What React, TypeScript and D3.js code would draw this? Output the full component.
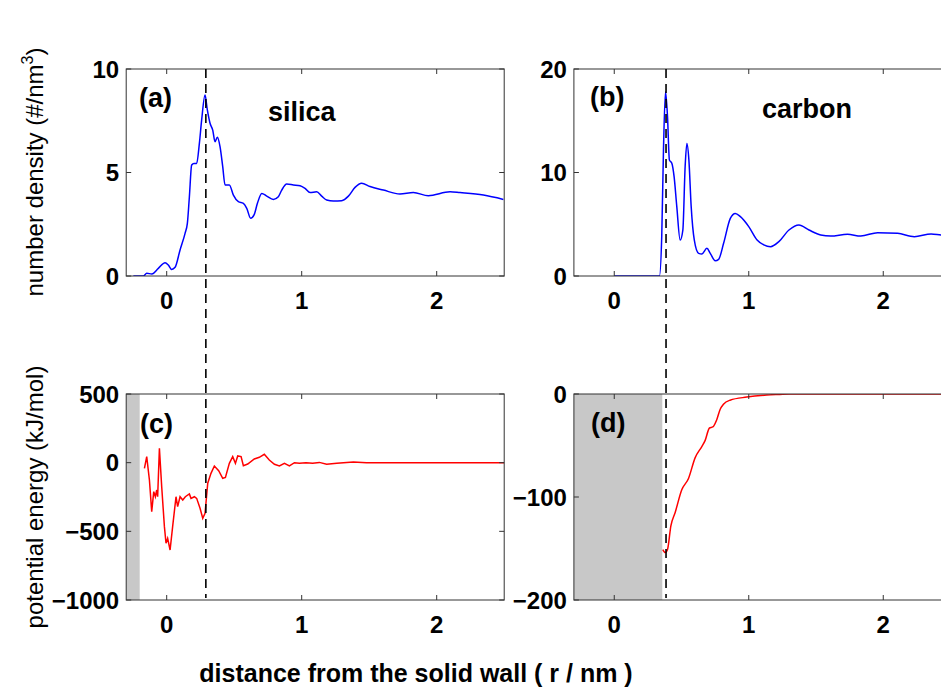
import React from "react";
import * as d3 from "d3";

// ---------- data ----------
const xTicks = [0, 1, 2];
const silicaDensityTicks = [0, 5, 10];
const carbonDensityTicks = [0, 10, 20];
const silicaEnergyTicks = [-1000, -500, 0, 500];
const carbonEnergyTicks = [-200, -100, 0];

const silicaDensity: [number, number][] = [
  [-0.247, 0], [-0.173, 0], [-0.148, 0.13], [-0.11, 0.1], [-0.062, 0.37], [-0.012, 0.64],
  [0.012, 0.53], [0.037, 0.32], [0.062, 0.42], [0.099, 1.26], [0.136, 2.06], [0.153, 2.54],
  [0.168, 3.83], [0.185, 5.36], [0.202, 5.44], [0.222, 5.44], [0.242, 6.41], [0.259, 7.54],
  [0.284, 8.74], [0.301, 8.02], [0.321, 7.38], [0.341, 7.05], [0.358, 6.49], [0.375, 6.7],
  [0.395, 6.25], [0.415, 5.28], [0.432, 4.4], [0.464, 4.4], [0.494, 3.91], [0.531, 3.59],
  [0.568, 3.51], [0.593, 3.27], [0.622, 2.79], [0.647, 2.95], [0.672, 3.51], [0.704, 3.99],
  [0.741, 3.86], [0.79, 3.7], [0.827, 3.83], [0.852, 4.15], [0.889, 4.44], [0.938, 4.4],
  [0.988, 4.36], [1.025, 4.23], [1.062, 4.03], [1.111, 4.07], [1.148, 3.86], [1.185, 3.67],
  [1.235, 3.62], [1.296, 3.64], [1.346, 3.86], [1.395, 4.28], [1.444, 4.48], [1.506, 4.32],
  [1.605, 4.15], [1.728, 3.96], [1.827, 4.03], [1.938, 3.88], [2.099, 4.07], [2.173, 4.03],
  [2.346, 3.91], [2.494, 3.7],
];

const carbonDensity: [number, number][] = [
  [0, 0], [0.336, 0], [0.353, 3.8], [0.366, 12.2], [0.381, 17.8], [0.396, 15.4], [0.41, 11.2],
  [0.428, 10.9], [0.445, 9.6], [0.465, 6.7], [0.49, 3.48], [0.51, 4.44], [0.527, 10.56],
  [0.54, 12.8], [0.555, 11.2], [0.572, 6.7], [0.595, 3.48], [0.627, 2.19], [0.652, 2.13],
  [0.689, 2.67], [0.714, 2.19], [0.751, 1.48], [0.776, 1.61], [0.813, 3.16], [0.863, 5.57],
  [0.9, 6.05], [0.938, 5.73], [1.0, 4.77], [1.062, 3.48], [1.112, 3.0], [1.162, 2.83],
  [1.224, 3.32], [1.299, 4.44], [1.373, 4.93], [1.448, 4.44], [1.535, 3.96], [1.609, 3.86],
  [1.734, 4.03], [1.833, 3.86], [1.958, 4.19], [2.107, 4.12], [2.231, 3.8], [2.356, 4.06],
  [2.44, 3.96], [2.5, 3.95],
];

const silicaEnergy: [number, number][] = [
  [-0.165, -41], [-0.148, 44], [-0.128, -126], [-0.111, -357], [-0.096, -211], [-0.084, -248],
  [-0.074, -199], [-0.067, -248], [-0.054, 104], [-0.037, -175], [-0.017, -466], [-0.005, -587],
  [0.007, -551], [0.025, -636], [0.044, -466], [0.069, -248], [0.081, -320], [0.099, -248],
  [0.119, -272], [0.138, -248], [0.168, -228], [0.18, -260], [0.205, -248], [0.222, -260],
  [0.247, -332], [0.267, -405], [0.284, -369], [0.304, -150], [0.328, -78], [0.353, -24],
  [0.385, -58], [0.415, -114], [0.435, -107], [0.464, -5], [0.489, 44], [0.509, -5],
  [0.526, 49], [0.551, 44], [0.568, -22], [0.6, -10], [0.649, 27], [0.686, 39], [0.723, 61],
  [0.76, 19], [0.798, -12], [0.835, -24], [0.872, -5], [0.909, -24], [0.946, 0], [0.983, -5],
  [1.032, 0], [1.081, -5], [1.131, 2], [1.185, -12], [1.26, -5], [1.383, 5], [1.48, 0], [2.5, 0],
];

const carbonEnergy: [number, number][] = [
  [0.361, -151], [0.379, -154], [0.396, -151], [0.421, -128], [0.453, -115], [0.502, -93],
  [0.552, -82], [0.601, -62], [0.651, -51], [0.676, -45], [0.708, -33], [0.733, -32],
  [0.762, -25], [0.787, -15], [0.812, -10], [0.861, -6], [0.985, -3], [1.134, -1],
  [1.23, -0.4], [1.3, 0], [2.5, 0],
];

const silicaWall = [-0.3, -0.2];
const carbonWall = [-0.3, 0.357];
const silicaMarker = 0.29;
const carbonMarker = 0.385;

// ---------- layout ----------
const W = 941;
const H = 689;
const xDomain: [number, number] = [-0.3, 2.5];
const leftX: [number, number] = [126.2, 504.2];
const rightX: [number, number] = [573.9, 950.5];
const topY: [number, number] = [276, 69];
const botY: [number, number] = [600, 394];

const FONT = "'Liberation Sans', Arial, Helvetica, sans-serif";

type PanelProps = {
  xr: [number, number];
  yr: [number, number];
  yDomain: [number, number];
  yTicks: number[];
  data: [number, number][];
  color: string;
  curve: any;
  wall?: number[];
  label: string;
  labelPos: [number, number];
  name?: string;
  namePos?: [number, number];
  id: string;
};

function fmt(v: number) {
  return v < 0 ? "\u2212" + Math.abs(v) : String(v);
}

function Panel(p: PanelProps) {
  const x = d3.scaleLinear().domain(xDomain).range(p.xr);
  const y = d3.scaleLinear().domain(p.yDomain).range(p.yr);
  const line = d3
    .line<[number, number]>()
    .x((d) => x(d[0]))
    .y((d) => y(d[1]))
    .curve(p.curve);
  const [x0, x1] = p.xr;
  const yb = p.yr[0];
  const yt = p.yr[1];
  const tl = 5;
  return (
    <g>
      <defs>
        <clipPath id={p.id}>
          <rect x={x0} y={yt} width={x1 - x0} height={yb - yt} />
        </clipPath>
      </defs>
      {p.wall && (
        <rect
          x={x(p.wall[0])}
          y={yt}
          width={x(p.wall[1]) - x(p.wall[0])}
          height={yb - yt}
          fill="#c8c8c8"
        />
      )}
      <path
        d={line(p.data) || ""}
        fill="none"
        stroke={p.color}
        strokeWidth={1.5}
        clipPath={`url(#${p.id})`}
      />
      <rect x={x0} y={yt} width={x1 - x0} height={yb - yt} fill="none" stroke="#333" strokeWidth={1} />
      {xTicks.map((t) => (
        <g key={"x" + t}>
          <line x1={x(t)} x2={x(t)} y1={yb} y2={yb - tl} stroke="#333" />
          <line x1={x(t)} x2={x(t)} y1={yt} y2={yt + tl} stroke="#333" />
          <text
            x={x(t)}
            y={yb + 33}
            textAnchor="middle"
            fontFamily={FONT}
            fontWeight="bold"
            fontSize={24}
          >
            {fmt(t)}
          </text>
        </g>
      ))}
      {p.yTicks.map((t) => (
        <g key={"y" + t}>
          <line x1={x0} x2={x0 + tl} y1={y(t)} y2={y(t)} stroke="#333" />
          <line x1={x1} x2={x1 - tl} y1={y(t)} y2={y(t)} stroke="#333" />
          <text
            x={x0 - 7}
            y={y(t)}
            dy="0.36em"
            textAnchor="end"
            fontFamily={FONT}
            fontWeight="bold"
            fontSize={24}
          >
            {fmt(t)}
          </text>
        </g>
      ))}
      <text x={p.labelPos[0]} y={p.labelPos[1]} fontFamily={FONT} fontWeight="bold" fontSize={27}>
        {p.label}
      </text>
      {p.name && p.namePos && (
        <text x={p.namePos[0]} y={p.namePos[1]} fontFamily={FONT} fontWeight="bold" fontSize={27}>
          {p.name}
        </text>
      )}
    </g>
  );
}

export default function App() {
  const xl = d3.scaleLinear().domain(xDomain).range(leftX);
  const xrr = d3.scaleLinear().domain(xDomain).range(rightX);
  return (
    <svg
      width={W}
      height={H}
      style={{ position: "absolute", left: 0, top: 0, background: "#fff" }}
    >
      <rect x={0} y={0} width={W} height={H} fill="#fff" />
      <Panel
        id="ca"
        xr={leftX}
        yr={topY}
        yDomain={[0, 10]}
        yTicks={silicaDensityTicks}
        data={silicaDensity}
        color="#0000ff"
        curve={d3.curveMonotoneX}
        label="(a)"
        labelPos={[139, 107]}
        name="silica"
        namePos={[268, 121]}
      />
      <Panel
        id="cb"
        xr={rightX}
        yr={topY}
        yDomain={[0, 20]}
        yTicks={carbonDensityTicks}
        data={carbonDensity}
        color="#0000ff"
        curve={d3.curveMonotoneX}
        label="(b)"
        labelPos={[590, 106]}
        name="carbon"
        namePos={[762, 118]}
      />
      <Panel
        id="cc"
        xr={leftX}
        yr={botY}
        yDomain={[-1000, 500]}
        yTicks={silicaEnergyTicks}
        data={silicaEnergy}
        color="#ff0000"
        curve={d3.curveLinear}
        wall={silicaWall}
        label="(c)"
        labelPos={[140, 433]}
      />
      <Panel
        id="cd"
        xr={rightX}
        yr={botY}
        yDomain={[-200, 0]}
        yTicks={carbonEnergyTicks}
        data={carbonEnergy}
        color="#ff0000"
        curve={d3.curveMonotoneX}
        wall={carbonWall}
        label="(d)"
        labelPos={[591, 432]}
      />
      <line
        x1={xl(silicaMarker)}
        x2={xl(silicaMarker)}
        y1={topY[1]}
        y2={botY[0] - 2}
        stroke="#000"
        strokeWidth={1.6}
        strokeDasharray="9,6"
      />
      <line
        x1={xrr(carbonMarker)}
        x2={xrr(carbonMarker)}
        y1={topY[1]}
        y2={botY[0] - 2}
        stroke="#000"
        strokeWidth={1.6}
        strokeDasharray="9,6"
      />
      <text
        transform="translate(43,172) rotate(-90)"
        textAnchor="middle"
        fontFamily={FONT}
        fontSize={24}
      >
        number density (#/nm
        <tspan dy={-10} fontSize={16}>3</tspan>
        <tspan dy={10}>)</tspan>
      </text>
      <text
        transform="translate(43,497) rotate(-90)"
        textAnchor="middle"
        fontFamily={FONT}
        fontSize={24}
      >
        potential energy (kJ/mol)
      </text>
      <text
        x={416}
        y={682}
        textAnchor="middle"
        fontFamily={FONT}
        fontWeight="bold"
        fontSize={25}
      >
        distance from the solid wall ( r / nm )
      </text>
    </svg>
  );
}
